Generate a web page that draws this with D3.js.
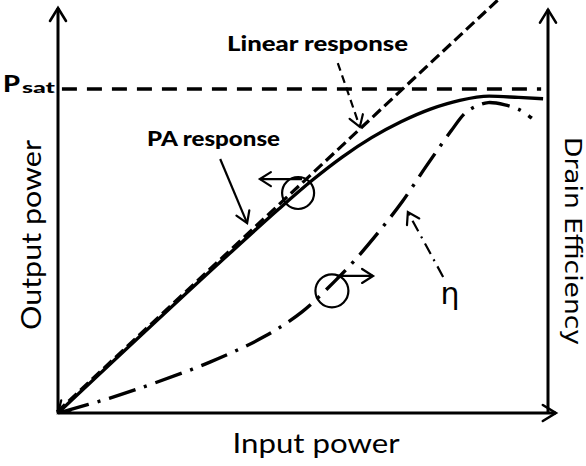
<!DOCTYPE html>
<html><head><meta charset="utf-8">
<script src="https://cdn.jsdelivr.net/npm/d3@7"></script>
<style>html,body{margin:0;padding:0;background:#fff;}svg{display:block;}</style>
</head><body>
<script>
// ---- data (input power 0..100, output power 0..100 where 100 = Psat) ----
const linearX = [0, 90.5];
const linearY = [0, 127.9];
const paX = [0, 35, 45, 52, 58, 64, 70, 76, 82, 88, 94, 99];
const paY = [0, 49.2, 62.9, 72.0, 79.0, 85.0, 89.9, 93.8, 96.5, 97.8, 97.4, 97.0];
const etaX = [0, 10.6, 19.8, 31.0, 42.0, 49.8, 56.3, 60.6, 66.1, 70.2, 75.3, 80.2, 83.1, 85.5, 87.8, 91.2, 94.3, 96.7];
const etaY = [0, 4.6, 9.3, 15.7, 23.5, 31.2, 40.4, 47.2, 57.1, 65.1, 76.5, 87.0, 92.6, 94.8, 95.8, 95.1, 93.5, 91.0];
const psatLevel = 100;
const labels = {x: "Input power", yLeft: "Output power", yRight: "Drain Efficiency",
  linear: "Linear response", pa: "PA response", eta: "η", psatP: "P", psatSub: "sat"};

const W = 586, H = 466;
const svg = d3.select("body").append("svg").attr("width", W).attr("height", H)
  .style("font-family", "Lato, 'Open Sans', sans-serif");

const x = d3.scaleLinear().domain([0, 100]).range([58, 548]);
const y = d3.scaleLinear().domain([0, 100]).range([413, 89]);

const defs = svg.append("defs");
function chevron(id, len, half, sw) {
  defs.append("marker").attr("id", id).attr("markerUnits", "userSpaceOnUse")
    .attr("viewBox", `${-len-4} ${-half-4} ${len+8} ${2*half+8}`)
    .attr("markerWidth", len+8).attr("markerHeight", 2*half+8)
    .attr("refX", 0).attr("refY", 0).attr("orient", "auto-start-reverse")
    .append("path").attr("d", `M${-len},${-half}L0,0L${-len},${half}`)
    .attr("fill", "none").attr("stroke", "#000").attr("stroke-width", sw)
    .attr("stroke-linejoin", "miter").attr("stroke-linecap", "round");
}
chevron("axArrow", 13, 8, 2.6);
chevron("smArrow", 11, 7, 2.2);

const line = d3.line().x(d => x(d[0])).y(d => y(d[1]));
const curve = d3.line().x(d => x(d[0])).y(d => y(d[1])).curve(d3.curveMonotoneX);

// axes
const axes = svg.append("g").attr("stroke", "#000").attr("stroke-width", 3).attr("fill", "none");
axes.append("path").attr("d", line([[0, 0], [0, 125]])).attr("marker-end", "url(#axArrow)");
axes.append("path").attr("d", line([[0, 0], [101.6, 0]])).attr("marker-end", "url(#axArrow)");
axes.append("path").attr("d", line([[100, 0], [100, 124.5]])).attr("marker-end", "url(#axArrow)");

// Psat dashed line
svg.append("path").attr("d", line([[0.8, psatLevel], [98.6, psatLevel]]))
  .attr("fill", "none").attr("stroke", "#000").attr("stroke-width", 3.5)
  .attr("stroke-dasharray", "15,10");

// linear response
svg.append("path").attr("d", line(linearX.map((v, i) => [v, linearY[i]])))
  .attr("fill", "none").attr("stroke", "#000").attr("stroke-width", 3.2)
  .attr("stroke-dasharray", "11,5").attr("transform", "translate(-1,-1)");

// PA response
svg.append("path").attr("d", curve(paX.map((v, i) => [v, paY[i]])))
  .attr("fill", "none").attr("stroke", "#000").attr("stroke-width", 3.4)
  .attr("marker-start", "url(#smArrow)");

// efficiency
svg.append("path").attr("d", d3.line().x(d => x(d[0])).y(d => y(d[1]))
    .curve(d3.curveCatmullRom.alpha(0.5))(etaX.map((v, i) => [v, etaY[i]])))
  .attr("fill", "none").attr("stroke", "#000").attr("stroke-width", 3.4)
  .attr("stroke-dasharray", "28,9,3,9").attr("stroke-dashoffset", -4);

// annotations
const ann = svg.append("g").attr("fill", "none").attr("stroke", "#000").attr("stroke-width", 2.2);
ann.append("circle").attr("cx", x(49)).attr("cy", y(67.9)).attr("r", 16);
ann.append("path").attr("d", line([[49.8, 72.2], [41.2, 72.2]])).attr("marker-end", "url(#smArrow)");
ann.append("circle").attr("cx", x(55.9)).attr("cy", y(37.7)).attr("r", 16.5);
ann.append("path").attr("d", line([[56.9, 42.3], [64.3, 42.3]])).attr("marker-end", "url(#smArrow)");
ann.append("path").attr("d", line([[57.1, 108], [61.6, 88.3]])).attr("stroke-dasharray", "8,5")
  .attr("marker-end", "url(#smArrow)");
ann.append("path").attr("d", line([[33.1, 78.4], [38.6, 58.6]])).attr("marker-end", "url(#smArrow)");
ann.append("path").attr("d", line([[78.6, 42], [71.4, 62]])).attr("stroke-dasharray", "12,6,2,6")
  .attr("marker-end", "url(#smArrow)");

// texts
function txt(str, px, py, size, weight, len, anchor, rot, family) {
  const t = svg.append("text").attr("x", px).attr("y", py).attr("font-size", size)
    .attr("font-weight", weight).attr("text-anchor", anchor || "start").text(str);
  if (len) t.attr("textLength", len).attr("lengthAdjust", "spacingAndGlyphs");
  if (rot) t.attr("transform", `rotate(${rot},${px},${py})`);
  if (family) t.style("font-family", family);
  return t;
}
txt(labels.linear, 227, 51, 21, "900", 181);
txt(labels.pa, 147, 146, 21, "900", 133);
txt(labels.psatP, 3, 92, 23, "900", 17);
txt(labels.psatSub, 22, 93, 15, "900", 33);
txt(labels.x, 316, 453, 26, "normal", 167, "middle");
txt(labels.yLeft, 41, 235, 26, "normal", 190, "middle", -90);
txt(labels.yRight, 565, 241, 23, "normal", 208, "middle", 90, "'DejaVu Sans', sans-serif");
txt(labels.eta, 450, 304, 30, "normal", null, "middle", null, "'DejaVu Sans', sans-serif");
</script>
</body></html>
